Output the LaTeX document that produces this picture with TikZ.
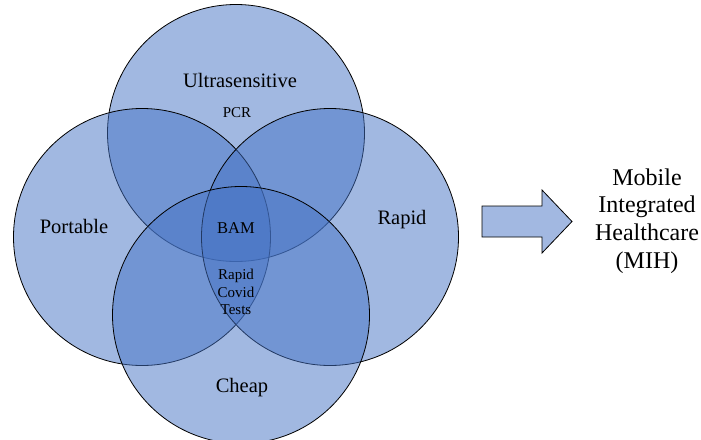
\documentclass[tikz,border=0pt]{standalone}
\usepackage{fontspec}
\setmainfont{Liberation Serif}
\usepackage{tikz}
\usetikzlibrary{shapes,arrows,positioning}

\definecolor{vennblue}{RGB}{68,114,196}

\begin{document}
\begin{tikzpicture}[x=1pt,y=-1pt]
			\tikzstyle{Set}		= [circle, draw=black, line width=0.8pt, fill=vennblue, fill opacity=0.5, draw opacity=1, minimum size=257pt, inner sep=0pt]
			\tikzstyle{Big}		= [font=\fontsize{20.5}{23.5}\selectfont, text=black]
			\tikzstyle{Small}	= [font=\fontsize{15}{17.5}\selectfont, text=black, align=center]
			\tikzstyle{Goal}	= [font=\fontsize{24}{27.6}\selectfont, text=black, align=center]
			
			\useasboundingbox (0, 0) rectangle (701, 439);
			
			\node (ultra) at (236, 133) [Set] {};
			\node (port) at (142, 237) [Set] {};
			\node (rapid) at (330, 237) [Set] {};
			\node (cheap) at (241, 315) [Set] {};
			
			\node (ultraL) at (240, 80) [Big] {Ultrasensitive};
			\node (pcr) at (237, 113) [Small] {PCR};
			\node (portL) at (74, 226) [Big] {Portable};
			\node (rapidL) at (402, 220) [Big] {Rapid};
			\node (cheapL) at (242, 388) [Big] {Cheap};
			\node (bam) at (236, 228) [Small, font=\fontsize{16.5}{19}\selectfont] {BAM};
			\node (covid) at (236, 292) [Small] {Rapid\\Covid\\Tests};
			
			\draw [line width=0.8pt, fill=vennblue!50] (482, 206) -- (542, 206) -- (542, 190) -- (572, 221.5)
				-- (542, 253) -- (542, 237) -- (482, 237) -- cycle;
			
			\node (mih) at (647, 221) [Goal] {Mobile\\Integrated\\Healthcare\\(MIH)};
		\end{tikzpicture}
\end{document}
